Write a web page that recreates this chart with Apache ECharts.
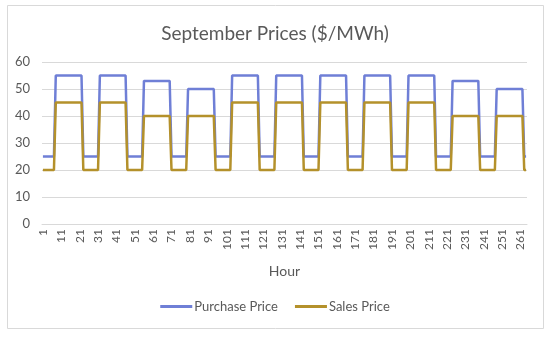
<!DOCTYPE html>
<html>
<head>
<meta charset="utf-8">
<script src="https://cdn.jsdelivr.net/npm/echarts@6/dist/echarts.min.js"></script>
<style>
html,body{margin:0;padding:0;background:#fff;}
#chart{width:550px;height:337px;}
</style>
</head>
<body>
<div id="chart"></div>
<script>
// ---- data ----
const titleText = 'September Prices ($/MWh)';
const seriesNames = ['Purchase Price', 'Sales Price'];
// peak price of each of the 11 days shown
const dayPeakPurchase = [55, 55, 53, 50, 55, 55, 55, 55, 55, 53, 50];
const dayPeakSales    = [45, 45, 40, 40, 45, 45, 45, 45, 45, 40, 40];
// off-peak price
const offPeakPurchase = 25;
const offPeakSales = 20;
// peak hours within a day (1-based hour of day, inclusive)
const peakFirstHour = 8;
const peakLastHour = 22;
const hoursPerDay = 24;
const yTicks = [0, 10, 20, 30, 40, 50, 60];

// ---- expand daily schedule into hourly series ----
const hours = [];
const purchase = [];
const sales = [];
for (let d = 0; d < dayPeakPurchase.length; d++) {
  for (let h = 1; h <= hoursPerDay; h++) {
    hours.push(String(d * hoursPerDay + h));
    const peak = h >= peakFirstHour && h <= peakLastHour;
    purchase.push(peak ? dayPeakPurchase[d] : offPeakPurchase);
    sales.push(peak ? dayPeakSales[d] : offPeakSales);
  }
}

const font = 'Lato, "Open Sans", sans-serif';
const textColor = '#595959';
const chart = echarts.init(document.getElementById('chart'), null, {renderer: 'canvas'});
chart.setOption({
  backgroundColor: '#ffffff',
  animation: false,
  graphic: [{
    type: 'rect', shape: {x: 7.5, y: 5.5, width: 536, height: 323},
    style: {fill: 'none', stroke: '#d9d9d9', lineWidth: 1}, silent: true, z: -1
  }],
  title: {
    text: titleText, left: 'center', top: 19,
    textStyle: {fontFamily: font, fontSize: 19, fontWeight: 'normal', color: textColor}
  },
  legend: {
    data: seriesNames, top: 295, left: 'center',
    icon: 'rect', itemWidth: 32, itemHeight: 3, itemGap: 17,
    textStyle: {fontFamily: font, fontSize: 13, color: textColor, padding: [0, 0, 0, -3]}
  },
  grid: {left: 42, right: 23, top: 62, bottom: 113, containLabel: false},
  xAxis: {
    type: 'category', data: hours, boundaryGap: true,
    name: 'Hour', nameLocation: 'middle', nameGap: 40,
    nameTextStyle: {fontFamily: font, fontSize: 14, color: textColor},
    axisLine: {lineStyle: {color: '#d9d9d9', width: 1}},
    axisTick: {show: false},
    axisLabel: {interval: 9, rotate: 90, margin: 5, fontFamily: font, fontSize: 12, color: textColor}
  },
  yAxis: {
    type: 'value', min: yTicks[0], max: yTicks[yTicks.length - 1], interval: 10,
    axisLine: {show: false}, axisTick: {show: false},
    axisLabel: {margin: 12, fontFamily: font, fontSize: 13, color: textColor},
    splitLine: {lineStyle: {color: '#d9d9d9', width: 1}}
  },
  series: [
    {name: seriesNames[0], type: 'line', data: purchase, symbol: 'none',
     lineStyle: {color: '#6f7fd6', width: 2.5}, itemStyle: {color: '#6f7fd6'}},
    {name: seriesNames[1], type: 'line', data: sales, symbol: 'none',
     lineStyle: {color: '#b4912b', width: 2.5}, itemStyle: {color: '#b4912b'}}
  ]
});
</script>
</body>
</html>
